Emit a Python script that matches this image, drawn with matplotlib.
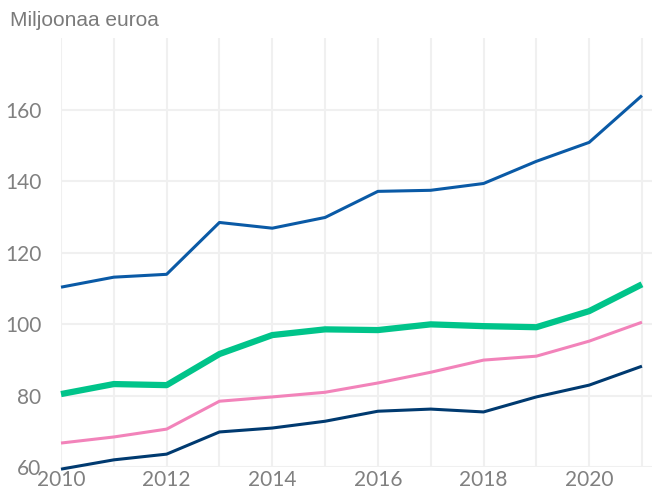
import matplotlib
matplotlib.use("Agg")
import matplotlib.pyplot as plt

years = list(range(2010, 2022))
blue = [110.3, 113.1, 113.9, 128.4, 126.8, 129.8, 137.1, 137.4, 139.3, 145.5, 150.8, 163.9]
green = [80.4, 83.2, 82.9, 91.6, 96.9, 98.5, 98.3, 99.9, 99.4, 99.1, 103.6, 111.1]
pink = [66.7, 68.4, 70.6, 78.4, 79.6, 80.9, 83.5, 86.5, 89.9, 91.0, 95.2, 100.5]
navy = [59.4, 62.0, 63.6, 69.8, 70.9, 72.8, 75.6, 76.2, 75.4, 79.6, 82.9, 88.2]
yticks = [60, 80, 100, 120, 140, 160]
xticks = [2010, 2012, 2014, 2016, 2018, 2020]
title = "Miljoonaa euroa"

plt.rcParams['font.family'] = ['Lato', 'DejaVu Sans']
fig = plt.figure(figsize=(6.53, 4.96), dpi=100)
ax = fig.add_axes([61/653, 29/496, 591/653, 429/496])
ax.set_xlim(2010, 2021.19)
ax.set_ylim(60, 180)

for x in years:
    ax.axvline(x, color='#f0f0f0', lw=1.5, zorder=0)
for y in yticks:
    ax.axhline(y, color='#f0f0f0', lw=1.5, zorder=0)

ax.plot(years, navy, color='#003A70', lw=2.2, clip_on=False, solid_capstyle='butt')
ax.plot(years, pink, color='#F283BA', lw=2.2, clip_on=False, solid_capstyle='butt')
ax.plot(years, blue, color='#0A5AA6', lw=2.2, clip_on=False, solid_capstyle='butt')
ax.plot(years, green, color='#00C48A', lw=4.5, clip_on=False, solid_capstyle='butt')

ax.set_xticks(xticks)
ax.set_xticklabels([str(x) for x in xticks])
ax.set_yticks(yticks)
ax.set_yticklabels([str(y) for y in yticks])
ax.tick_params(axis='both', length=0, labelsize=15, colors='#808080')
ax.tick_params(axis='y', pad=14)
ax.tick_params(axis='x', pad=2)
for s in ax.spines.values():
    s.set_visible(False)

fig.text(10/653, 1 - 20/496, title, fontsize=15, color='#7a7a7a', va='center', ha='left',
         family=['Liberation Sans', 'DejaVu Sans'])
fig.savefig('out.png', dpi=100)
